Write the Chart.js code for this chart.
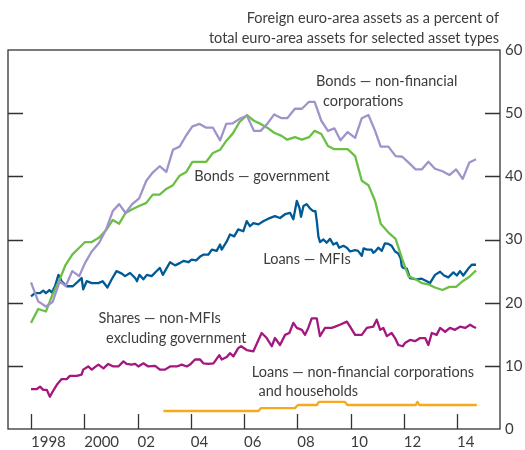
<!DOCTYPE html>
<html>
<head>
<meta charset="utf-8">
<script src="https://cdn.jsdelivr.net/npm/chart.js@4.4.0/dist/chart.umd.min.js"></script>
<style>
  html, body { margin: 0; padding: 0; background: #fff; }
</style>
</head>
<body>
<canvas id="chart" width="525" height="450"></canvas>
<script>
'use strict'

// x axis ticks (years) and y axis range
const tickYears = [1998, 2000, 2002, 2004, 2006, 2008, 2010, 2012, 2014];
const yMin = 0;
const yMax = 60;
const yStep = 10;

// quarterly dates used by the two bond series
const quarterDates = [
    1998.00, 1998.27, 1998.56, 1998.81, 1999.08, 1999.30, 1999.55, 1999.81, 2000.03, 2000.28,
    2000.56, 2000.82, 2001.07, 2001.31, 2001.55, 2001.80, 2002.06, 2002.33, 2002.57, 2002.83,
    2003.08, 2003.33, 2003.58, 2003.83, 2004.06, 2004.33, 2004.58, 2004.83, 2005.10, 2005.33,
    2005.58, 2005.83, 2006.11, 2006.37, 2006.62, 2006.87, 2007.13, 2007.41, 2007.62, 2007.91,
    2008.17, 2008.44, 2008.65, 2008.90, 2009.15, 2009.39, 2009.62, 2009.89, 2010.17, 2010.42,
    2010.67, 2010.92, 2011.13, 2011.42, 2011.69, 2011.94, 2012.17, 2012.44, 2012.67, 2012.92,
    2013.17, 2013.45, 2013.71, 2013.96, 2014.21, 2014.46, 2014.71
];

// Bonds - non-financial corporations
const bondsNfc = [
    23.2, 20.2, 19.4, 20.1, 23.4, 22.6, 25.0, 24.2, 26.3, 28.1,
    29.5, 31.6, 34.5, 35.6, 34.2, 35.6, 36.5, 39.3, 40.6, 41.6,
    40.7, 44.2, 44.7, 46.5, 47.9, 48.3, 47.7, 47.7, 45.7, 48.3,
    48.4, 49.1, 49.6, 47.2, 47.2, 48.3, 49.8, 49.2, 49.2, 50.7,
    50.7, 51.8, 51.8, 48.8, 47.2, 47.6, 45.7, 47.0, 46.1, 49.2,
    49.7, 47.2, 44.7, 44.7, 43.2, 43.1, 42.2, 41.1, 41.1, 42.3,
    41.2, 40.8, 40.2, 41.1, 39.6, 42.2, 42.7
];

// Bonds - government
const bondsGov = [
    16.8, 19.0, 18.6, 21.3, 23.7, 26.0, 27.6, 28.7, 29.6, 29.6,
    30.3, 31.5, 33.1, 32.5, 34.2, 34.8, 35.3, 35.8, 37.1, 37.1,
    38.0, 38.6, 40.1, 40.7, 42.3, 42.3, 42.3, 43.7, 44.2, 45.6,
    46.8, 48.6, 49.7, 48.8, 48.3, 47.7, 46.9, 46.4, 45.8, 46.2,
    45.8, 46.2, 47.2, 46.7, 44.8, 44.3, 44.3, 44.3, 43.2, 39.3,
    38.6, 36.1, 32.5, 31.1, 30.1, 26.9, 24.2, 23.7, 23.1, 22.9,
    22.4, 22.0, 22.5, 22.5, 23.4, 24.1, 25.1
];

// Loans - MFIs
const loansMfiDates = [
    1998.00, 1998.15, 1998.34, 1998.46, 1998.56, 1998.69, 1998.78, 1998.90, 1999.03, 1999.15,
    1999.34, 1999.57, 1999.78, 1999.90, 1999.96, 2000.09, 2000.28, 2000.53, 2000.69, 2000.87,
    2001.03, 2001.21, 2001.41, 2001.53, 2001.72, 2001.91, 2001.98, 2002.07, 2002.22, 2002.35,
    2002.53, 2002.69, 2002.84, 2002.95, 2003.10, 2003.22, 2003.41, 2003.60, 2003.72, 2003.91,
    2004.03, 2004.20, 2004.35, 2004.47, 2004.66, 2004.79, 2004.97, 2005.10, 2005.16, 2005.35,
    2005.47, 2005.63, 2005.78, 2005.97, 2006.10, 2006.22, 2006.35, 2006.54, 2006.72, 2006.91,
    2007.16, 2007.35, 2007.54, 2007.73, 2007.85, 2007.98, 2008.08, 2008.14, 2008.23, 2008.35,
    2008.48, 2008.60, 2008.68, 2008.74, 2008.79, 2008.85, 2008.98, 2009.10, 2009.23, 2009.35,
    2009.48, 2009.57, 2009.73, 2009.86, 2009.98, 2010.17, 2010.28, 2010.42, 2010.49, 2010.62,
    2010.79, 2010.85, 2010.92, 2011.04, 2011.17, 2011.29, 2011.42, 2011.54, 2011.67, 2011.79,
    2011.88, 2011.92, 2011.97, 2012.11, 2012.23, 2012.48, 2012.67, 2012.86, 2012.98, 2013.17,
    2013.36, 2013.51, 2013.67, 2013.86, 2013.99, 2014.11, 2014.23, 2014.42, 2014.55, 2014.71
];
const loansMfi = [
    21.0, 21.5, 21.5, 21.9, 21.5, 22.0, 21.6, 22.6, 24.4, 23.4,
    22.6, 22.6, 23.4, 23.9, 22.1, 23.4, 23.1, 23.1, 23.4, 22.4,
    23.7, 25.0, 24.6, 24.2, 24.7, 23.9, 23.4, 24.4, 23.7, 24.4,
    24.2, 24.9, 25.5, 24.4, 25.5, 26.4, 25.9, 26.3, 26.6, 26.4,
    26.8, 26.7, 27.3, 27.6, 27.6, 28.4, 28.2, 29.2, 28.4, 29.7,
    30.8, 30.5, 31.6, 31.3, 32.9, 32.1, 32.6, 32.4, 32.9, 33.3,
    33.7, 33.4, 34.0, 34.2, 33.2, 36.1, 35.0, 33.6, 35.3, 35.6,
    34.9, 34.5, 34.5, 32.6, 30.5, 29.6, 30.0, 29.5, 30.1, 29.2,
    29.5, 28.7, 29.0, 28.7, 28.1, 28.3, 28.2, 27.4, 28.6, 28.4,
    28.4, 27.9, 28.1, 28.7, 28.2, 29.4, 29.3, 29.0, 28.1, 27.8,
    27.0, 25.8, 25.5, 25.4, 23.9, 23.7, 23.8, 23.4, 23.1, 24.4,
    24.9, 24.3, 24.0, 24.8, 24.3, 25.0, 24.3, 25.4, 26.0, 26.0
];

// Shares - non-MFIs excluding government
const sharesDates = [
    1998.00, 1998.21, 1998.34, 1998.46, 1998.59, 1998.71, 1998.81, 1998.97, 1999.15, 1999.34,
    1999.46, 1999.72, 1999.90, 1999.96, 2000.15, 2000.28, 2000.40, 2000.53, 2000.72, 2000.90,
    2001.09, 2001.28, 2001.47, 2001.59, 2001.78, 2001.91, 2002.03, 2002.22, 2002.40, 2002.66,
    2002.84, 2003.03, 2003.22, 2003.47, 2003.66, 2003.85, 2003.97, 2004.16, 2004.35, 2004.47,
    2004.66, 2004.85, 2005.07, 2005.16, 2005.35, 2005.47, 2005.60, 2005.78, 2005.89, 2006.10,
    2006.35, 2006.54, 2006.66, 2006.85, 2007.04, 2007.16, 2007.35, 2007.54, 2007.70, 2007.85,
    2007.98, 2008.17, 2008.29, 2008.41, 2008.54, 2008.73, 2008.85, 2009.04, 2009.29, 2009.42,
    2009.60, 2009.86, 2009.98, 2010.17, 2010.42, 2010.61, 2010.85, 2010.98, 2011.11, 2011.23,
    2011.36, 2011.54, 2011.67, 2011.79, 2011.96, 2012.04, 2012.23, 2012.42, 2012.61, 2012.80,
    2012.92, 2013.05, 2013.23, 2013.36, 2013.55, 2013.73, 2013.92, 2014.11, 2014.30, 2014.49,
    2014.61, 2014.71
];
const shares = [
    6.3, 6.3, 6.7, 6.2, 6.2, 5.1, 5.9, 7.0, 7.9, 7.9,
    8.4, 8.4, 8.6, 9.4, 9.9, 9.4, 9.8, 10.2, 9.6, 10.3,
    9.9, 9.9, 10.7, 10.3, 10.2, 10.3, 9.9, 10.4, 9.9, 10.0,
    9.4, 9.4, 9.9, 9.9, 10.2, 9.9, 10.2, 11.0, 11.0, 10.4,
    10.3, 10.4, 11.7, 11.0, 11.4, 12.0, 11.5, 12.8, 13.1, 12.5,
    12.3, 14.1, 15.2, 14.4, 13.1, 14.4, 13.3, 14.9, 15.2, 16.8,
    16.0, 15.7, 14.9, 16.0, 17.5, 17.5, 14.7, 16.0, 16.0, 16.2,
    16.5, 17.0, 16.2, 14.9, 14.9, 16.0, 16.2, 17.3, 15.7, 16.0,
    14.7, 15.2, 14.4, 13.3, 13.1, 13.6, 14.1, 13.9, 14.4, 14.4,
    13.3, 15.2, 14.9, 16.0, 15.4, 16.0, 15.7, 16.2, 16.0, 16.5,
    16.2, 16.0
];

// Loans - non-financial corporations and households
const loansNfcDates = [
    2002.97, 2006.54, 2006.63, 2007.91, 2008.02, 2008.73, 2008.81, 2009.79, 2009.88, 2012.45,
    2012.51, 2012.58, 2014.74
];
const loansNfc = [
    2.85, 2.85, 3.3, 3.3, 3.8, 3.8, 4.3, 4.3, 3.8, 3.8,
    4.3, 3.8, 3.8
];

const titleLines = [
    'Foreign euro-area assets as a percent of',
    'total euro-area assets for selected asset types'
];

// series labels, placed in data units (year, percent)
const notes = [
    { text: 'Bonds \u2014 non-financial', x: 2008.70, y: 55.0 },
    { text: 'corporations', x: 2008.96, y: 51.8 },
    { text: 'Bonds \u2014 government', x: 2004.13, y: 40.0 },
    { text: 'Loans \u2014 MFIs', x: 2006.72, y: 26.8 },
    { text: 'Shares \u2014 non-MFIs', x: 2000.53, y: 17.5 },
    { text: 'excluding government', x: 2000.82, y: 14.4 },
    { text: 'Loans \u2014 non-financial corporations', x: 2006.29, y: 8.95 },
    { text: 'and households', x: 2006.54, y: 5.9 }
];

const textColor = '#3c3c3c';
const axisColor = '#333333';
const fontFamily = 'Lato, "Open Sans", sans-serif';

function toPoints(dates, values) {
    return dates.map((d, i) => ({ x: d, y: values[i] }));
}

function series(dates, values, color) {
    return {
        data: toPoints(dates, values),
        borderColor: color,
        borderWidth: 2.3,
        pointRadius: 0,
        tension: 0,
        fill: false,
        borderJoinStyle: 'round'
    };
}

const framePlugin = {
    id: 'frame',
    afterDatasetsDraw(chart) {
        const { ctx, chartArea: a, scales } = chart;
        const xs = scales.x;
        const ys = scales.y;
        ctx.save();
        ctx.strokeStyle = axisColor;
        ctx.lineWidth = 1.3;
        ctx.strokeRect(a.left, a.top, a.right - a.left, a.bottom - a.top);

        ctx.beginPath();
        ys.ticks.forEach(t => {
            if (t.value <= yMin || t.value >= yMax) return;
            const py = Math.round(ys.getPixelForValue(t.value)) + 0.5;
            ctx.moveTo(a.left, py);
            ctx.lineTo(a.left + 15, py);
            ctx.moveTo(a.right, py);
            ctx.lineTo(a.right - 15, py);
        });
        xs.ticks.forEach(t => {
            const px = Math.round(xs.getPixelForValue(t.value)) + 0.5;
            ctx.moveTo(px, a.bottom);
            ctx.lineTo(px, a.bottom - 15);
        });
        ctx.stroke();

        ctx.fillStyle = textColor;
        ctx.textBaseline = 'middle';
        ctx.font = '14.5px ' + fontFamily;
        ctx.textAlign = 'right';
        titleLines.forEach((line, i) => {
            ctx.fillText(line, a.right - 1, 18 + i * 20);
        });

        ctx.textAlign = 'left';
        notes.forEach(n => {
            ctx.fillText(n.text, xs.getPixelForValue(n.x), ys.getPixelForValue(n.y));
        });
        ctx.restore();
    }
};

new Chart(document.getElementById('chart'), {
    type: 'line',
    data: {
        datasets: [
            series(quarterDates, bondsNfc, '#a093cc'),
            series(quarterDates, bondsGov, '#6cbf45'),
            series(loansMfiDates, loansMfi, '#005a96'),
            series(sharesDates, shares, '#a3177f'),
            series(loansNfcDates, loansNfc, '#f7a91c')
        ]
    },
    options: {
        responsive: false,
        animation: false,
        layout: { padding: { left: 8, top: 50, right: 0, bottom: 0 } },
        plugins: {
            legend: { display: false },
            tooltip: { enabled: false }
        },
        scales: {
            x: {
                type: 'linear',
                min: 1997.136,
                max: 2015.61,
                grid: { display: false, drawTicks: false },
                border: { display: false },
                afterBuildTicks: s => { s.ticks = tickYears.map(v => ({ value: v })); },
                afterFit: s => { s.height = 21; },
                ticks: {
                    align: 'start',
                    padding: 4,
                    autoSkip: false,
                    maxRotation: 0,
                    color: textColor,
                    font: { family: fontFamily, size: 15 },
                    callback: v => (v === 1998 || v === 2000) ? String(v) : String(v).slice(2)
                }
            },
            y: {
                position: 'right',
                min: yMin,
                max: yMax,
                grid: { display: false, drawTicks: false },
                border: { display: false },
                afterFit: s => { s.width = 25; },
                ticks: {
                    stepSize: yStep,
                    padding: 5,
                    color: textColor,
                    font: { family: fontFamily, size: 15 }
                }
            }
        }
    },
    plugins: [framePlugin]
});
</script>
</body>
</html>
